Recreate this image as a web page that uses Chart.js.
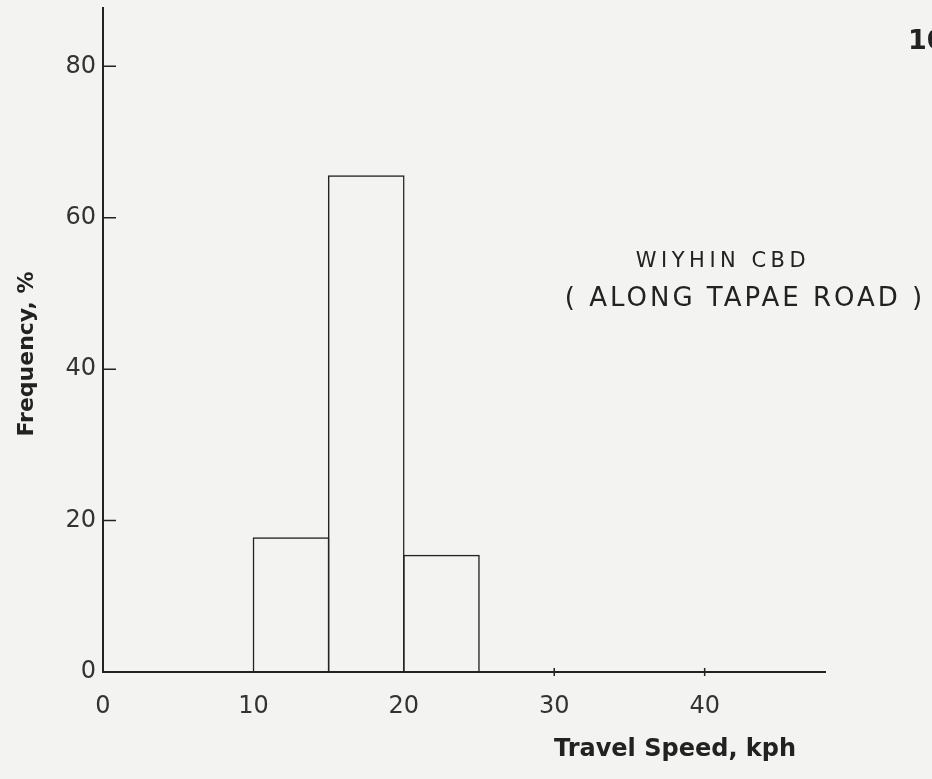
<!DOCTYPE html>
<html>
<head>
<meta charset="utf-8">
<script src="https://cdn.jsdelivr.net/npm/chart.js@4.4.1/dist/chart.umd.min.js"></script>
<style>
  html, body { margin: 0; padding: 0; background: #f3f3f1; }
  #wrap { width: 932px; height: 779px; }
</style>
</head>
<body>
<div id="wrap"><canvas id="histChart"></canvas></div>
<script>
// travel speed bins (kph) and frequency (%)
const binStart = [10, 15, 20];
const binEnd = [15, 20, 25];
const frequency = [17.8, 65.6, 15.5];

const xTicks = [0, 10, 20, 30, 40];
const yTicks = [0, 20, 40, 60, 80];

const ink = '#222';
const fontFamily = '"DejaVu Sans", sans-serif';

// inward tick marks and free text on the sheet
const sheetPlugin = {
    id: 'sheet',
    afterDraw(chart) {
        const ctx = chart.ctx;
        const xs = chart.scales.x;
        const ys = chart.scales.y;
        const area = chart.chartArea;
        ctx.save();
        ctx.strokeStyle = ink;
        ctx.lineWidth = 1.5;
        ctx.beginPath();
        yTicks.slice(1).forEach(v => {
            const py = ys.getPixelForValue(v);
            ctx.moveTo(area.left, py);
            ctx.lineTo(area.left + 13, py);
        });
        xTicks.slice(3).forEach(v => {
            const px = xs.getPixelForValue(v);
            ctx.moveTo(px, area.bottom - 4);
            ctx.lineTo(px, area.bottom + 4);
        });
        ctx.stroke();

        ctx.fillStyle = ink;
        ctx.textBaseline = 'middle';
        ctx.textAlign = 'center';

        ctx.font = '21px ' + fontFamily;
        ctx.letterSpacing = '4.5px';
        ctx.fillText('WIYHIN CBD', 723, 262);

        ctx.font = '26px ' + fontFamily;
        ctx.letterSpacing = '3px';
        ctx.fillText('( ALONG TAPAE ROAD )', 745, 299);

        ctx.letterSpacing = '0px';
        ctx.font = 'bold 24px ' + fontFamily;
        ctx.fillText('Travel Speed, kph', 675, 750);

        ctx.save();
        ctx.translate(27, 354);
        ctx.rotate(-Math.PI / 2);
        ctx.font = 'bold 22px ' + fontFamily;
        ctx.fillText('Frequency, %', 0, 0);
        ctx.restore();

        ctx.textAlign = 'left';
        ctx.font = 'bold 27px ' + fontFamily;
        ctx.fillText('10', 908, 42);
        ctx.restore();
    }
};

const ctx = document.getElementById('histChart');
new Chart(ctx, {
    type: 'bar',
    data: {
        datasets: [{
            data: frequency.map((f, i) => ({x: (binStart[i] + binEnd[i]) / 2, y: f})),
            backgroundColor: 'rgba(0,0,0,0)',
            borderColor: ink,
            borderWidth: 1.5,
            borderSkipped: 'bottom',
            barPercentage: 1.02,
            categoryPercentage: 1
        }]
    },
    options: {
        responsive: true,
        maintainAspectRatio: false,
        animation: false,
        layout: {padding: {top: 8, right: 107, left: 0, bottom: 0}},
        plugins: {legend: {display: false}, tooltip: {enabled: false}},
        scales: {
            x: {
                type: 'linear',
                offset: false,
                min: 0,
                max: 48,
                afterBuildTicks: s => { s.ticks = xTicks.map(v => ({value: v})); },
                afterFit: s => { s.height = 107; s.paddingLeft = 0; s.paddingRight = 0; },
                grid: {display: false, drawTicks: false},
                border: {color: ink, width: 2},
                ticks: {
                    color: '#333',
                    padding: 20,
                    font: {family: fontFamily, size: 24},
                    maxRotation: 0
                }
            },
            y: {
                min: 0,
                max: 87.7,
                afterBuildTicks: s => { s.ticks = yTicks.map(v => ({value: v})); },
                afterFit: s => { s.width = 103; s.paddingTop = 0; s.paddingBottom = 0; },
                grid: {display: false, drawTicks: false},
                border: {color: ink, width: 2},
                ticks: {
                    color: '#333',
                    padding: 7,
                    font: {family: fontFamily, size: 24}
                }
            }
        }
    },
    plugins: [sheetPlugin]
});
</script>
</body>
</html>
